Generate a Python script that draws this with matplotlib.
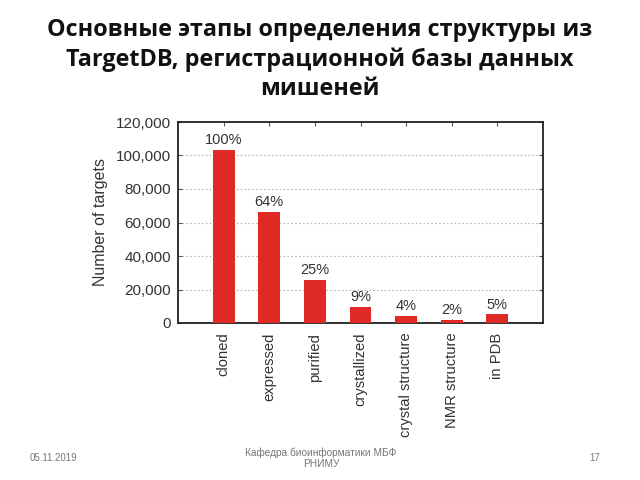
import matplotlib
matplotlib.use('Agg')
import matplotlib.pyplot as plt

categories = ['cloned', 'expressed', 'purified', 'crystallized',
              'crystal structure', 'NMR structure', 'in PDB']
targets = [103300, 66300, 25700, 9700, 4200, 2000, 5200]
percents = ['100%', '64%', '25%', '9%', '4%', '2%', '5%']
yticks = [0, 20000, 40000, 60000, 80000, 100000, 120000]

title = ('Основные этапы определения структуры из\n'
         'TargetDB, регистрационной базы данных\nмишеней')

fig = plt.figure(figsize=(6.4, 4.8), dpi=100)
fig.text(0.5, 1 - 18 / 480, title, ha='center', va='top', fontsize=16.8,
         fontweight='bold', family='Open Sans', linespacing=1.28, color='#111111')

# axes box: x 178..543, y 122..323 (pixels)
ax = fig.add_axes([178 / 640, 1 - 323 / 480, 365 / 640, 201 / 480])
x = range(len(categories))
ax.bar(x, targets, width=0.48, color='#e02a26', zorder=3)
for xi, v, p in zip(x, targets, percents):
    ax.text(xi, v + 1500, p, ha='center', va='bottom', fontsize=10.5,
            color='#333333', family='Liberation Sans')

ax.set_xlim(-1, 7)
ax.set_ylim(0, 120000)
ax.set_yticks(yticks)
ax.set_yticklabels(['{:,}'.format(t) for t in yticks], fontsize=11,
                   color='#333333', family='Liberation Sans')
ax.set_xticks(list(x))
ax.set_xticklabels(categories, rotation=90, fontsize=10.6, color='#333333',
                   family='Liberation Sans')
ax.tick_params(axis='both', direction='in', top=True, right=True, length=3,
               color='#555555')
ax.tick_params(axis='y', pad=5)
ax.tick_params(axis='x', pad=7)
for yt in yticks[1:-1]:
    ax.axhline(yt, color='#b5b5b5', linestyle=(0, (1.5, 2)), linewidth=0.8, zorder=1)
for s in ax.spines.values():
    s.set_linewidth(1.3)
    s.set_color('#222222')
ax.set_ylabel('Number of targets', fontsize=11.5, color='#333333',
              family='Liberation Sans', labelpad=6)

fig.text(30 / 640, 1 - 458 / 480, '05.11.2019', fontsize=7, color='#777777',
         va='center', ha='left', family='Liberation Sans')
fig.text(321 / 640, 1 - 458 / 480, 'Кафедра биоинформатики МБФ\nРНИМУ', fontsize=7.3,
         color='#777777', va='center', ha='center', family='Liberation Sans',
         linespacing=1.1)
fig.text(600 / 640, 1 - 458 / 480, '17', fontsize=7, color='#777777',
         va='center', ha='right', family='Liberation Sans')

fig.savefig('out.png', dpi=100)
